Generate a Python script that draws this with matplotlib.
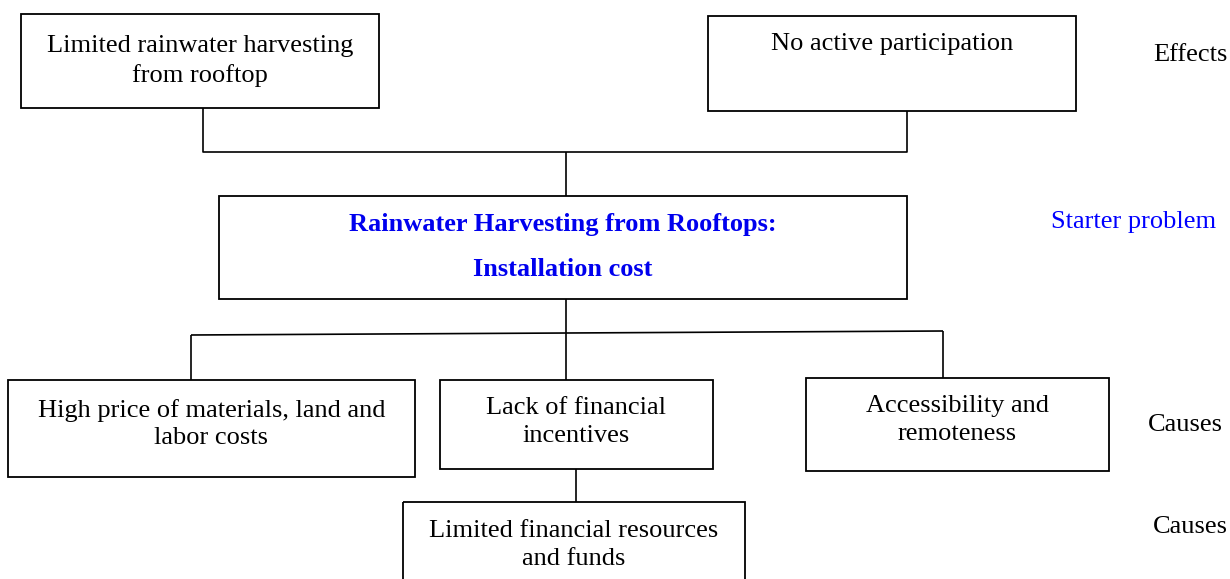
import matplotlib.pyplot as plt
from matplotlib.patches import Rectangle

# boxes: (x0, y0, x1, y1) in pixels, y downwards
box_labels = ["Limited rainwater harvesting\nfrom rooftop",
              "No active participation",
              "",
              "High price of materials, land and\nlabor costs",
              "Lack of financial\nincentives",
              "Accessibility and\nremoteness",
              "Limited financial resources\nand funds"]
box_x0 = [21, 708, 219, 8, 440, 806, 403]
box_y0 = [14, 16, 196, 380, 380, 378, 502]
box_x1 = [379, 1076, 907, 415, 713, 1109, 745]
box_y1 = [108, 111, 299, 477, 469, 471, 590]
text_y = [61, 44, 247, 424, 422, 420, 545]
line_gap = [1.4, 1.3, 1.3, 1.25, 1.3, 1.3, 1.33]

# starter problem lines (bold blue)
core_lines = ["Rainwater Harvesting from Rooftops:", "Installation cost"]
core_x = [563, 563]
core_y = [224, 270]

side_labels = ["Effects", "Starter problem", "Causes", "Causes"]
side_x = [1153, 1051, 1148, 1153]
side_y = [55, 222, 425, 527]
side_colors = ["black", "blue", "black", "black"]

# connector lines: list of (xs, ys)
links = [
    ([203, 203, 907, 907], [108, 152, 152, 111]),
    ([566, 566], [152, 196]),
    ([566, 566], [299, 380]),
    ([191, 943], [335, 331]),
    ([191, 191], [335, 380]),
    ([943, 943], [331, 378]),
    ([576, 576], [469, 502]),
]

fig = plt.figure(figsize=(12.3, 5.79), dpi=100)
ax = fig.add_axes([0, 0, 1, 1])
ax.set_xlim(0, 1230)
ax.set_ylim(579, 0)
ax.axis("off")

for xs, ys in links:
    ax.plot(xs, ys, color="black", linewidth=1.2, solid_capstyle="butt")

for i, lab in enumerate(box_labels):
    ax.add_patch(Rectangle((box_x0[i], box_y0[i]), box_x1[i] - box_x0[i], box_y1[i] - box_y0[i],
                           fill=False, edgecolor="black", linewidth=1.3))
    if lab:
        cx = (box_x0[i] + box_x1[i]) / 2
        ax.text(cx, text_y[i], lab, ha="center", va="center", fontsize=19,
                family="Liberation Serif", linespacing=line_gap[i])

for lab, x, y in zip(core_lines, core_x, core_y):
    ax.text(x, y, lab, ha="center", va="center", fontsize=19,
            family="Liberation Serif", fontweight="bold", color="#0000ee")

for lab, x, y, c in zip(side_labels, side_x, side_y, side_colors):
    ax.text(x, y, lab, ha="left", va="center", fontsize=19,
            family="Liberation Serif", color=c)

fig.savefig("out.png", dpi=100)
